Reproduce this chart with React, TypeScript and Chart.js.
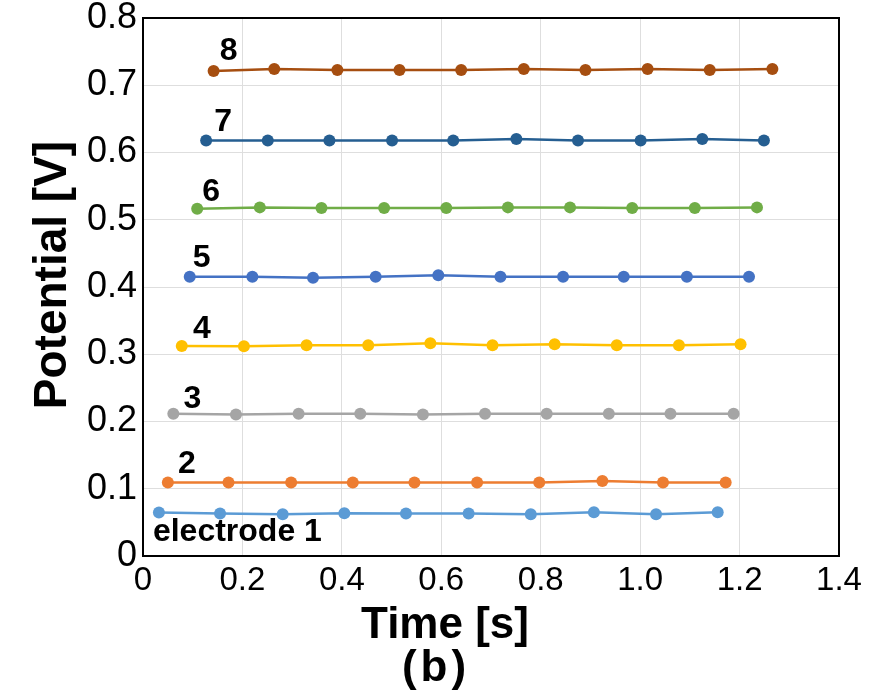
import React, { useEffect, useRef } from 'react';
import { Chart, registerables } from 'chart.js';

Chart.register(...registerables);

// ---- data ----
const SERIES_NAMES = ['electrode 1', '2', '3', '4', '5', '6', '7', '8'];

const T1 = [0.032, 0.155, 0.281, 0.405, 0.529, 0.655, 0.780, 0.907, 1.032, 1.156];
const V1 = [0.0646, 0.0631, 0.0622, 0.0637, 0.0631, 0.0631, 0.0622, 0.0652, 0.0622, 0.0652];

const T2 = [0.050, 0.172, 0.298, 0.422, 0.546, 0.672, 0.797, 0.924, 1.046, 1.172];
const V2 = [0.1094, 0.1094, 0.1094, 0.1094, 0.1094, 0.1094, 0.1094, 0.1115, 0.1094, 0.1094];

const T3 = [0.061, 0.187, 0.313, 0.437, 0.563, 0.688, 0.812, 0.937, 1.061, 1.188];
const V3 = [0.2115, 0.2104, 0.2115, 0.2115, 0.2104, 0.2115, 0.2115, 0.2115, 0.2115, 0.2115];

const T4 = [0.078, 0.203, 0.329, 0.453, 0.578, 0.703, 0.828, 0.953, 1.078, 1.202];
const V4 = [0.3124, 0.3119, 0.3134, 0.3134, 0.3164, 0.3134, 0.3149, 0.3134, 0.3134, 0.3149];

const T5 = [0.094, 0.220, 0.342, 0.468, 0.594, 0.719, 0.845, 0.967, 1.094, 1.219];
const V5 = [0.4154, 0.4154, 0.4139, 0.4154, 0.4175, 0.4154, 0.4154, 0.4154, 0.4154, 0.4154];

const T6 = [0.109, 0.235, 0.359, 0.485, 0.610, 0.734, 0.859, 0.984, 1.110, 1.235];
const V6 = [0.5164, 0.5184, 0.5175, 0.5175, 0.5175, 0.5184, 0.5184, 0.5175, 0.5175, 0.5184];

const T7 = [0.127, 0.251, 0.375, 0.501, 0.624, 0.751, 0.875, 1.001, 1.125, 1.249];
const V7 = [0.6179, 0.6179, 0.6179, 0.6179, 0.6179, 0.6199, 0.6179, 0.6179, 0.6199, 0.6179];

const T8 = [0.142, 0.264, 0.391, 0.516, 0.640, 0.766, 0.890, 1.015, 1.140, 1.266];
const V8 = [0.7213, 0.7243, 0.7228, 0.7228, 0.7228, 0.7243, 0.7228, 0.7243, 0.7228, 0.7243];

const TIMES = [T1, T2, T3, T4, T5, T6, T7, T8];
const VALUES = [V1, V2, V3, V4, V5, V6, V7, V8];

const X_TICK_LABELS = ['0', '0.2', '0.4', '0.6', '0.8', '1.0', '1.2', '1.4'];
const Y_TICK_LABELS = ['0', '0.1', '0.2', '0.3', '0.4', '0.5', '0.6', '0.7', '0.8'];

const X_TITLE = 'Time [s]';
const Y_TITLE = 'Potential [V]';
const PANEL_LABEL = '(b)';

// ---- style ----
const COLORS = ['#5B9BD5', '#ED7D31', '#A5A5A5', '#FFC000', '#4472C4', '#70AD47', '#255E91', '#A64E10'];
// label offsets (px) relative to each series' first point
const LABEL_OFFSETS = [
  [-6, 28],
  [19, -18],
  [19, -15],
  [20, -17],
  [12, -18],
  [14, -17],
  [17, -18],
  [15, -20],
];
const FONT = "Arial, 'Liberation Sans', Helvetica, sans-serif";

const overlayPlugin = {
  id: 'overlay',
  afterDatasetsDraw(chart: any) {
    const ctx = chart.ctx;
    ctx.save();
    ctx.fillStyle = '#000';
    chart.data.datasets.forEach((_ds: any, i: number) => {
      const meta = chart.getDatasetMeta(i);
      const p = meta.data[0];
      if (!p) return;
      const off = LABEL_OFFSETS[i];
      ctx.font = `bold 32px ${FONT}`;
      if (i === 0) {
        ctx.textAlign = 'left';
        ctx.textBaseline = 'alphabetic';
      } else {
        ctx.textAlign = 'center';
        ctx.textBaseline = 'middle';
      }
      ctx.fillText(SERIES_NAMES[i], p.x + off[0], p.y + off[1]);
    });

    const { left, right, top, bottom } = chart.chartArea;
    ctx.strokeStyle = '#000';
    ctx.lineWidth = 2;
    ctx.strokeRect(left, top, right - left, bottom - top);

    // axis titles
    ctx.textAlign = 'center';
    ctx.textBaseline = 'alphabetic';
    ctx.font = `bold 44px ${FONT}`;
    ctx.fillText(X_TITLE, 445, 638);
    try { (ctx as any).letterSpacing = '4px'; } catch (e) {}
    ctx.fillText(PANEL_LABEL, 436, 681);
    try { (ctx as any).letterSpacing = '0px'; } catch (e) {}

    ctx.save();
    ctx.translate(66, 275);
    ctx.rotate(-Math.PI / 2);
    ctx.font = `bold 46px ${FONT}`;
    ctx.fillText(Y_TITLE, 0, 0);
    ctx.restore();

    ctx.restore();
  },
};

export default function App() {
  const canvasRef = useRef<HTMLCanvasElement | null>(null);

  useEffect(() => {
    const canvas = canvasRef.current;
    if (!canvas) return;
    const datasets = TIMES.map((ts, i) => ({
      label: SERIES_NAMES[i],
      data: ts.map((t, j) => ({ x: t, y: VALUES[i][j] })),
      borderColor: COLORS[i],
      backgroundColor: COLORS[i],
      pointBackgroundColor: COLORS[i],
      pointBorderColor: COLORS[i],
      pointBorderWidth: 0,
      pointRadius: 6,
      borderWidth: 2.5,
      tension: 0,
      fill: false,
    }));

    const chart = new Chart(canvas, {
      type: 'line',
      data: { datasets },
      options: {
        animation: false,
        responsive: false,
        maintainAspectRatio: false,
        layout: { padding: { top: 18, right: 37, left: 0, bottom: 0 } },
        plugins: {
          legend: { display: false },
          tooltip: { enabled: false },
          title: { display: false },
        },
        scales: {
          x: {
            type: 'linear',
            min: 0,
            max: 1.4,
            ticks: {
              stepSize: 0.2,
              color: '#000',
              padding: 5,
              maxRotation: 0,
              autoSkip: false,
              font: { family: FONT, size: 33, lineHeight: 1.2 },
              callback: (_v: any, index: number) => X_TICK_LABELS[index],
            },
            grid: { color: '#dedede', lineWidth: 1, drawTicks: false },
            border: { display: false },
            afterFit: (scale: any) => { scale.height = 137; },
          },
          y: {
            type: 'linear',
            min: 0,
            max: 0.8,
            ticks: {
              stepSize: 0.1,
              color: '#000',
              padding: 6,
              autoSkip: false,
              font: { family: FONT, size: 36, lineHeight: 0.5 },
              callback: (_v: any, index: number) => Y_TICK_LABELS[index],
            },
            grid: { color: '#dedede', lineWidth: 1, drawTicks: false },
            border: { display: false },
            afterFit: (scale: any) => { scale.width = 143; },
          },
        },
      },
      plugins: [overlayPlugin],
    } as any);

    return () => chart.destroy();
  }, []);

  return (
    <div style={{ position: 'absolute', left: 0, top: 0, width: 876, height: 693, background: '#fff' }}>
      <canvas ref={canvasRef} width={876} height={693} style={{ width: 876, height: 693, display: 'block' }} />
    </div>
  );
}
